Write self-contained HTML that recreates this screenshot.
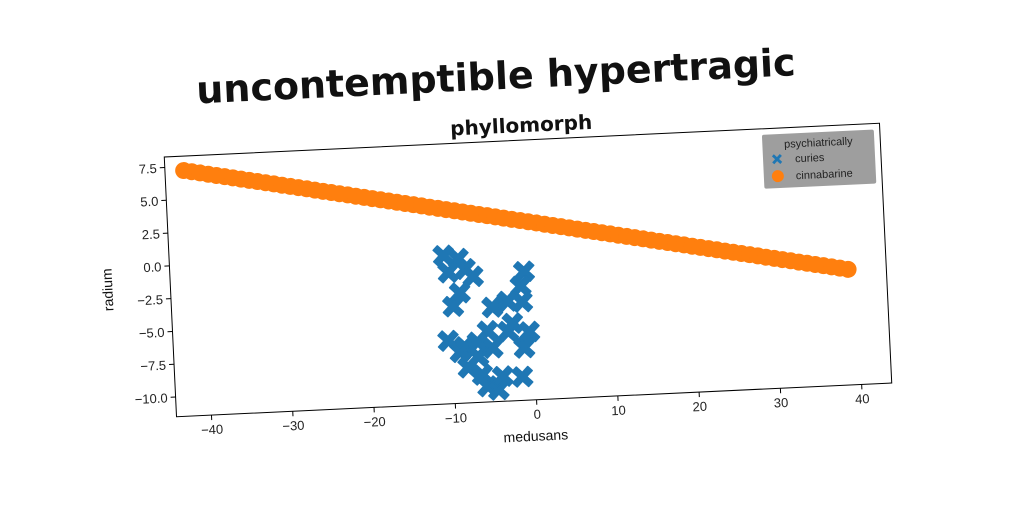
<!DOCTYPE html>
<html><head><meta charset="utf-8"><style>
html,body{margin:0;padding:0;background:#fff;}
svg{display:block;font-family:"Liberation Sans","DejaVu Sans",sans-serif;}
</style></head><body>
<svg id="chart" width="1024" height="512" viewBox="0 0 1024 512" xmlns="http://www.w3.org/2000/svg">
<g id="rot" transform="rotate(-2.7 528 270)">
<text x="505" y="88" text-anchor="middle" font-size="38" font-weight="bold" fill="#111" font-family="'DejaVu Sans',sans-serif">uncontemptible hypertragic</text>
<text x="528" y="132" text-anchor="middle" font-size="20" font-weight="bold" fill="#111" font-family="'DejaVu Sans',sans-serif">phyllomorph</text>
<rect x="170" y="140" width="716" height="260" fill="#fff" stroke="#000" stroke-width="1"/>
<g id="xticks"></g><g id="yticks"></g>
<g id="series-orange"></g><g id="series-blue"></g>
<text x="528" y="441" text-anchor="middle" font-size="14" fill="#111">medusans</text>
<text x="0" y="0" transform="translate(112 270) rotate(-90)" text-anchor="middle" font-size="14" fill="#111">radium</text>
<g>
<rect x="768" y="146" width="112" height="54" fill="#999" opacity="0.95" rx="2"/>
<text x="824" y="160" text-anchor="middle" font-size="11" fill="#222">psychiatrically</text>
<path d="M777,168 l2,-2 l3,3 l3,-3 l2,2 l-3,3 l3,3 l-2,2 l-3,-3 l-3,3 l-2,-2 l3,-3z" fill="#1f77b4"/>
<text x="800" y="175" font-size="11" fill="#222">curies</text>
<circle cx="782" cy="188" r="6" fill="#ff7f0e"/>
<text x="800" y="192" font-size="11" fill="#222">cinnabarine</text>
</g>
</g>
</svg>
<script>
const xTicks=[-40,-30,-20,-10,0,10,20,30,40];
const yTicks=[7.5,5.0,2.5,0.0,-2.5,-5.0,-7.5,-10.0];
const orangeX=[-42,-41,-40,-39,-38,-37,-36,-35,-34,-33,-32,-31,-30,-29,-28,-27,-26,-25,-24,-23,-22,-21,-20,-19,-18,-17,-16,-15,-14,-13,-12,-11,-10,-9,-8,-7,-6,-5,-4,-3,-2,-1,0,1,2,3,4,5,6,7,8,9,10,11,12,13,14,15,16,17,18,19,20,21,22,23,24,25,26,27,28,29,30,31,32,33,34,35,36,37,38,39];
const orangeY=[7.20,7.08,6.96,6.83,6.71,6.59,6.47,6.34,6.22,6.10,5.98,5.86,5.73,5.61,5.49,5.37,5.24,5.12,5.00,4.88,4.76,4.63,4.51,4.39,4.27,4.15,4.02,3.90,3.78,3.66,3.53,3.41,3.29,3.17,3.05,2.92,2.80,2.68,2.56,2.43,2.31,2.19,2.07,1.95,1.82,1.70,1.58,1.46,1.33,1.21,1.09,0.97,0.85,0.72,0.60,0.48,0.36,0.23,0.11,-0.01,-0.13,-0.25,-0.38,-0.50,-0.62,-0.74,-0.87,-0.99,-1.11,-1.23,-1.35,-1.48,-1.60,-1.72,-1.84,-1.97,-2.09,-2.21,-2.33,-2.45,-2.58,-2.70];
const blueX=[-10.6,-8.8,-8.0,-7.1,-10.1,-8.8,-0.8,-1.3,-1.2,-3.0,-4.9,-9.7,-5.6,-3.1,-2.5,-0.5,-1.2,-10.5,-8.5,-6.9,-8.2,-6.5,-5.9,-4.6,-4.0,-1.6,-5.1,-6.9,-9.1];
const blueY=[-0.2,-0.5,-1.3,-1.9,-1.5,-3.1,-1.7,-2.8,-4.0,-3.9,-4.3,-4.1,-6.1,-6.2,-5.6,-6.3,-7.5,-6.7,-7.2,-8.0,-8.8,-9.4,-10.3,-10.6,-9.6,-9.7,-7.4,-6.9,-7.6];
const L=170,R=886,T=140,B=400,xmin=-44.3,xmax=43.7,ymin=-11.5,ymax=8.3;
const sx=v=>L+(v-xmin)/(xmax-xmin)*(R-L);
const sy=v=>B-(v-ymin)/(ymax-ymin)*(B-T);
const NS="http://www.w3.org/2000/svg";
function mk(tag,attrs,parent){const e=document.createElementNS(NS,tag);for(const k in attrs)e.setAttribute(k,attrs[k]);parent.appendChild(e);return e;}
const gx=document.getElementById('xticks'),gy=document.getElementById('yticks');
xTicks.forEach(t=>{const x=sx(t);
 const l=mk('line',{x1:x,x2:x,y1:B,y2:B+5,stroke:'#000'},gx);
 
 
 const tx=mk('text',{x:x,y:B+19,'text-anchor':'middle','font-size':13,fill:'#222'},gx);
 tx.textContent=(t<0?'\u2212'+Math.abs(t):t);
 
 });
yTicks.forEach(t=>{const y=sy(t);
 const l=mk('line',{x1:L-5,x2:L,y1:y,y2:y,stroke:'#000'},gy);
 
 
 const tx=mk('text',{x:L-8,y:y+5,'text-anchor':'end','font-size':13,fill:'#222'},gy);
 tx.textContent=(t<0?'\u2212'+Math.abs(t).toFixed(1):t.toFixed(1));
 
 });
const go=document.getElementById('series-orange');
orangeX.forEach((v,i)=>{const c=mk('circle',{cx:sx(v),cy:sy(orangeY[i]),r:8.5,fill:'#ff7f0e'},go);
 
 });
const gb=document.getElementById('series-blue');
const a=4.3,b=10;
blueX.forEach((v,i)=>{const x=sx(v),y=sy(blueY[i]);
 const d=`M${x-b},${y-b+a}L${x-b+a},${y-b}L${x},${y-a}L${x+b-a},${y-b}L${x+b},${y-b+a}L${x+a},${y}L${x+b},${y+b-a}L${x+b-a},${y+b}L${x},${y+a}L${x-b+a},${y+b}L${x-b},${y+b-a}L${x-a},${y}Z`;
 const p=mk('path',{d:d,fill:'#1f77b4','stroke':'#1f77b4','stroke-width':1.5,'stroke-linejoin':'round'},gb);
 
 });
</script>
</body></html>
